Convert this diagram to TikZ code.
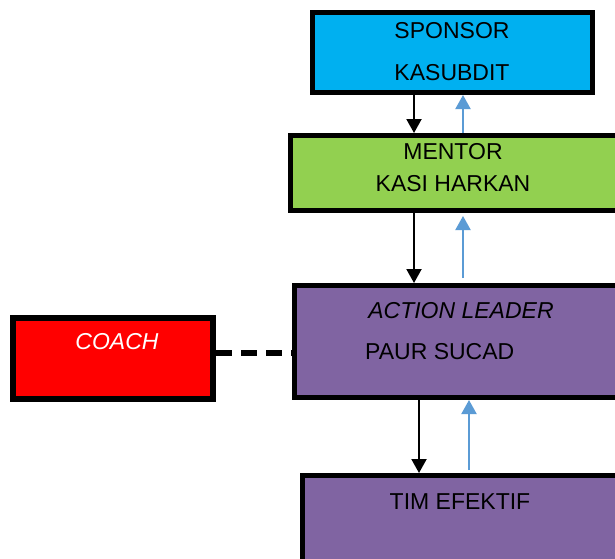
\documentclass[tikz,border=0pt]{standalone}
\usepackage{fontspec}
\setmainfont{Liberation Sans}
\usetikzlibrary{arrows.meta}
\definecolor{sponsorc}{HTML}{00B0F0}
\definecolor{mentorc}{HTML}{92D050}
\definecolor{purplec}{HTML}{8064A2}
\definecolor{coachc}{HTML}{FF0000}
\definecolor{bluearr}{HTML}{5B9BD5}
\tikzset{
  box/.style={draw=black, line width=5pt, rectangle, inner sep=0pt},
  txt/.style={font=\fontsize{23}{26}\selectfont, inner sep=0pt, text=black},
  downarr/.style={draw=black, line width=2pt, -{Triangle[width=15pt,length=14pt]}},
  uparr/.style={draw=bluearr, line width=2pt, -{Triangle[width=15pt,length=14pt]}, color=bluearr},
  dashlink/.style={draw=black, line width=6pt, dash pattern=on 16pt off 9pt},
}
\begin{document}
\begin{tikzpicture}[x=1pt,y=-1pt]
\useasboundingbox (0,0) rectangle (615,558);
\clip (0,0) rectangle (615,558);
\fill[white] (0,0) rectangle (615,558);
% boxes
\node[box, fill=sponsorc, minimum width=280pt, minimum height=80pt] (sponsor) at (452.5,52.5) {};
\node[box, fill=mentorc, minimum width=347pt, minimum height=75pt] (mentor) at (464,173) {};
\node[box, fill=purplec, minimum width=343pt, minimum height=112pt] (leader) at (466,341.5) {};
\node[box, fill=coachc, line width=6pt, minimum width=200pt, minimum height=81pt] (coach) at (113,358.5) {};
\node[box, fill=purplec, minimum width=335pt, minimum height=122pt] (tim) at (470,536.5) {};
% texts
\node[txt] (tsponsor) at (452,31) {SPONSOR};
\node[txt] (tkasubdit) at (452,73) {KASUBDIT};
\node[txt] (tmentor) at (453,152) {MENTOR};
\node[txt] (tkasi) at (453,184) {KASI HARKAN};
\node[txt, font=\fontsize{23}{26}\selectfont\itshape] (taction) at (461,311) {ACTION LEADER};
\node[txt, anchor=west] (tpaur) at (365,352) {PAUR SUCAD};
\node[txt, text=white, font=\fontsize{23}{26}\selectfont\itshape] (tcoach) at (117,342) {COACH};
\node[txt] (ttim) at (460,502) {TIM EFEKTIF};
% x positions of connectors
\coordinate (xa) at (414,0);
\coordinate (xb) at (463,0);
\coordinate (xc) at (419,0);
\coordinate (xd) at (469,0);
% connectors
\draw[downarr] (sponsor.south -| xa) -- (mentor.north -| xa);
\draw[uparr] (mentor.north -| xb) -- (sponsor.south -| xb);
\draw[downarr] (mentor.south -| xa) -- (leader.north -| xa);
\draw[uparr, shorten <=5pt, shorten >=3pt] (leader.north -| xb) -- (mentor.south -| xb);
\draw[downarr] (leader.south -| xc) -- (tim.north -| xc);
\draw[uparr, shorten <=3pt] (tim.north -| xd) -- (leader.south -| xd);
\draw[dashlink] (coach.east |- 0,353) -- (leader.west |- 0,353);
\end{tikzpicture}
\end{document}
